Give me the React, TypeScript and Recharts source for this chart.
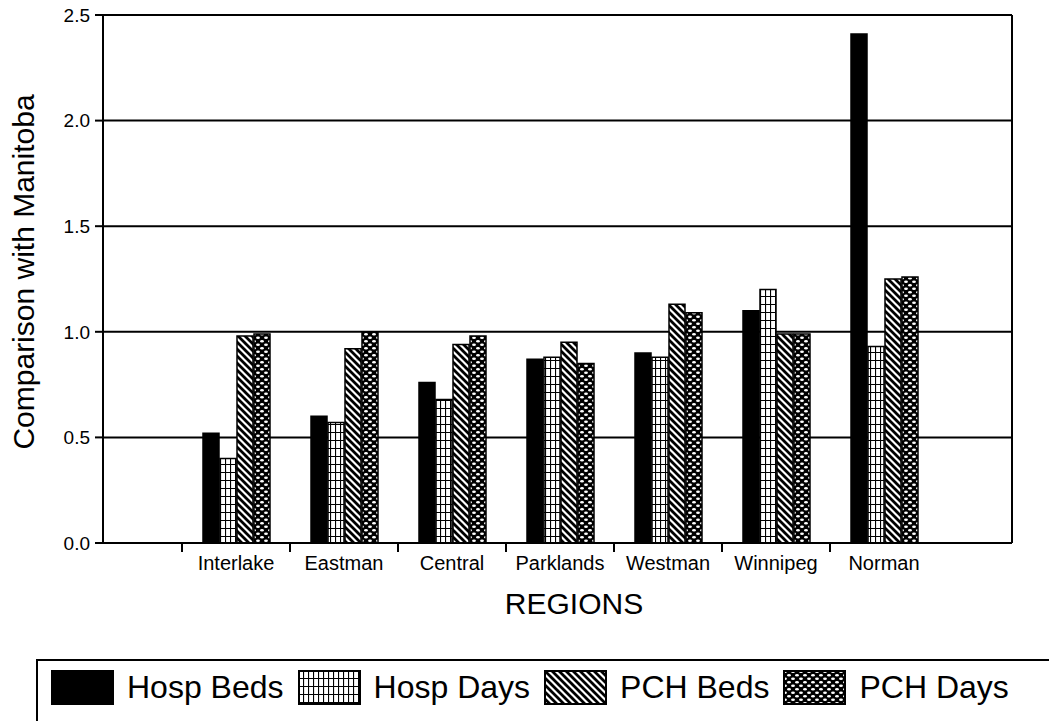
import React from "react";
import {
    BarChart,
    Bar,
    XAxis,
    YAxis,
    CartesianGrid,
    Legend,
    Label,
} from "recharts";

const regions = ["Interlake", "Eastman", "Central", "Parklands", "Westman", "Winnipeg", "Norman"];
const hospBeds = [0.52, 0.6, 0.76, 0.87, 0.9, 1.1, 2.41];
const hospDays = [0.4, 0.57, 0.68, 0.88, 0.88, 1.2, 0.93];
const pchBeds = [0.98, 0.92, 0.94, 0.95, 1.13, 0.99, 1.25];
const pchDays = [0.99, 1.0, 0.98, 0.85, 1.09, 0.99, 1.26];
const yTicks = [0, 0.5, 1.0, 1.5, 2.0, 2.5];

const data = regions.map((region, i) => ({
    region,
    hospBeds: hospBeds[i],
    hospDays: hospDays[i],
    pchBeds: pchBeds[i],
    pchDays: pchDays[i],
}));

const FONT = "Arial, 'Liberation Sans', sans-serif";
const WIDTH = 1049;
const HEIGHT = 721;
const PLOT_LEFT = 103;
const PLOT_RIGHT = 1012;
const PAD_LEFT = 79;
const PAD_RIGHT = 74;
const BAND = (PLOT_RIGHT - PLOT_LEFT - PAD_LEFT - PAD_RIGHT) / regions.length;

const series = [
    { key: "hospBeds", name: "Hosp Beds", fill: "#000" },
    { key: "hospDays", name: "Hosp Days", fill: "grid" },
    { key: "pchBeds", name: "PCH Beds", fill: "hatch" },
    { key: "pchDays", name: "PCH Days", fill: "dots" },
];

// pattern defs, prefix keeps ids unique between chart and legend svgs
const Patterns = ({ prefix }: { prefix: string }) => (
    <defs>
        <pattern id={`${prefix}grid`} width={5} height={8} patternUnits="userSpaceOnUse">
            <rect width={5} height={8} fill="#fff" />
            <path d="M0.5,0 L0.5,8 M0,0.5 L5,0.5" stroke="#000" strokeWidth={1.2} />
        </pattern>
        <pattern id={`${prefix}hatch`} width={7} height={7} patternUnits="userSpaceOnUse">
            <rect width={7} height={7} fill="#fff" />
            <path d="M-1,-1 L8,8 M-1,6 L1,8 M6,-1 L8,1" stroke="#000" strokeWidth={2.8} />
        </pattern>
        <pattern id={`${prefix}dots`} width={8} height={7} patternUnits="userSpaceOnUse">
            <rect width={8} height={7} fill="#000" />
            <ellipse cx={2} cy={1.75} rx={1.9} ry={1.2} fill="#fff" />
            <ellipse cx={6} cy={5.25} rx={1.9} ry={1.2} fill="#fff" />
        </pattern>
    </defs>
);

const fillFor = (fill: string, prefix: string) =>
    fill.startsWith("#") ? fill : `url(#${prefix}${fill})`;

const RegionTick = (props: any) => {
    const { x, y, payload } = props;
    return (
        <g>
            <line x1={x - BAND / 2} y1={y} x2={x - BAND / 2} y2={y + 9} stroke="#000" strokeWidth={2} />
            <text x={x} y={y + 27} textAnchor="middle" fontSize={20} fontFamily={FONT} fill="#000">
                {payload.value}
            </text>
        </g>
    );
};

const LegendBox = () => (
    <div style={{ display: "flex", alignItems: "center", paddingLeft: 13, paddingTop: 9 }}>
        {series.map((s) => (
            <div key={s.key} style={{ display: "flex", alignItems: "center", marginRight: 14 }}>
                <svg width={63} height={35} style={{ marginRight: 13, display: "block" }}>
                    <Patterns prefix="lg-" />
                    <rect x={1} y={1} width={61} height={33} fill={fillFor(s.fill, "lg-")} stroke="#000" strokeWidth={2} />
                </svg>
                <span style={{ fontFamily: FONT, fontSize: 32, color: "#000", lineHeight: "35px" }}>{s.name}</span>
            </div>
        ))}
    </div>
);

export default function App() {
    return (
        <div style={{ position: "absolute", left: 0, top: 0, background: "#fff" }}>
            <BarChart
                width={WIDTH}
                height={HEIGHT}
                data={data}
                margin={{ top: 15, right: WIDTH - PLOT_RIGHT, left: 0, bottom: 98 }}
                barSize={16}
                barGap={1}
            >
                <Patterns prefix="ch-" />
                <CartesianGrid
                    horizontal
                    vertical
                    verticalCoordinatesGenerator={({ offset }: any) => [offset.left + offset.width]}
                    stroke="#000"
                    strokeWidth={2}
                />
                <XAxis
                    dataKey="region"
                    height={80}
                    padding={{ left: PAD_LEFT, right: PAD_RIGHT }}
                    axisLine={{ stroke: "#000", strokeWidth: 2 }}
                    tickLine={false}
                    tickSize={0}
                    tickMargin={0}
                    interval={0}
                    tick={<RegionTick />}
                >
                    <Label
                        content={() => (
                            <text x={574} y={614} textAnchor="middle" fontSize={30} fontFamily={FONT} fill="#000">
                                REGIONS
                            </text>
                        )}
                    />
                </XAxis>
                <YAxis
                    width={PLOT_LEFT}
                    domain={[0, 2.5]}
                    ticks={yTicks}
                    interval={0}
                    tickFormatter={(v: number) => v.toFixed(1)}
                    axisLine={{ stroke: "#000", strokeWidth: 2 }}
                    tickLine={{ stroke: "#000", strokeWidth: 2 }}
                    tickSize={8}
                    tickMargin={5}
                    tick={{ fontSize: 19, fontFamily: FONT, fill: "#000" }}
                >
                    <Label
                        content={() => (
                            <text
                                x={23}
                                y={272}
                                transform="rotate(-90 23 272)"
                                textAnchor="middle"
                                dominantBaseline="central"
                                fontSize={30}
                                fontFamily={FONT}
                                fill="#000"
                            >
                                Comparison with Manitoba
                            </text>
                        )}
                    />
                </YAxis>
                <Legend
                    layout="vertical"
                    align="center"
                    verticalAlign="middle"
                    content={<LegendBox />}
                    wrapperStyle={{
                        top: 659,
                        left: 36,
                        width: WIDTH - 36,
                        height: HEIGHT - 659,
                        borderTop: "2px solid #000",
                        borderLeft: "2px solid #000",
                        boxSizing: "border-box",
                    }}
                />
                {series.map((s) => (
                    <Bar
                        key={s.key}
                        dataKey={s.key}
                        name={s.name}
                        fill={fillFor(s.fill, "ch-")}
                        stroke="#000"
                        strokeWidth={1.5}
                        isAnimationActive={false}
                    />
                ))}
            </BarChart>
        </div>
    );
}
